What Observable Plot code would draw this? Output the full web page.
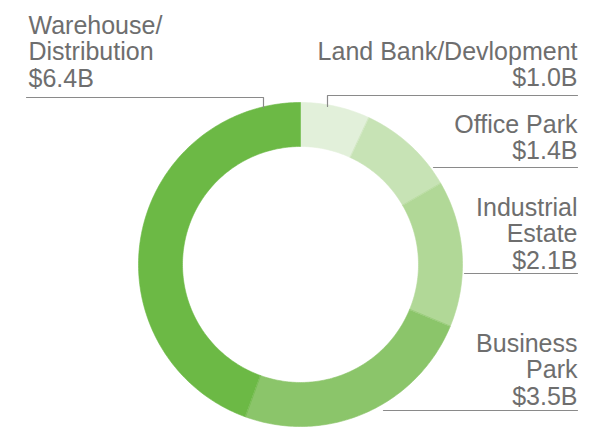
<!DOCTYPE html>
<html>
<head>
<meta charset="utf-8">
<script src="https://cdn.jsdelivr.net/npm/d3@7"></script>
<script src="https://cdn.jsdelivr.net/npm/@observablehq/plot@0.6"></script>
<style>
  html, body { margin: 0; padding: 0; background: #fff; }
  #chart svg { display: block; }
</style>
</head>
<body>
<div id="chart"></div>
<script>
// Data (clockwise from 12 o'clock)
const categories = ["Land Bank/Devlopment", "Office Park", "Industrial Estate", "Business Park", "Warehouse/Distribution"];
const values = [1.0, 1.4, 2.1, 3.5, 6.4];
const valueLabels = ["$1.0B", "$1.4B", "$2.1B", "$3.5B", "$6.4B"];
const labelLines = [["Land Bank/Devlopment"], ["Office Park"], ["Industrial", "Estate"], ["Business", "Park"], ["Warehouse/", "Distribution"]];
const colors = ["#e2f0da", "#c7e3b5", "#b1d897", "#8bc56a", "#6cb945"];

const W = 589, H = 430;
const cx = 300, cy = 264, rOuter = 162, rInner = 118;

const pie = d3.pie().sort(null).value(d => d)(values);

// Build slice polygons from the data
const slicePts = [];
pie.forEach((p, i) => {
  const n = Math.max(8, Math.ceil((p.endAngle - p.startAngle) * 60));
  const pts = [];
  for (let k = 0; k <= n; k++) {
    const a = p.startAngle + (p.endAngle - p.startAngle) * k / n;
    pts.push([cx + rOuter * Math.sin(a), cy - rOuter * Math.cos(a)]);
  }
  for (let k = n; k >= 0; k--) {
    const a = p.startAngle + (p.endAngle - p.startAngle) * k / n;
    pts.push([cx + rInner * Math.sin(a), cy - rInner * Math.cos(a)]);
  }
  pts.forEach(([x, y]) => slicePts.push({cat: categories[i], x, y}));
});

// Leader lines (layout)
const leaders = [
  {cat: categories[0], pts: [[327, 106], [327, 95], [577, 95]]},
  {cat: categories[1], pts: [[433, 167], [577, 167]]},
  {cat: categories[2], pts: [[464, 273], [577, 273]]},
  {cat: categories[3], pts: [[383, 410], [577, 410]]},
  {cat: categories[4], pts: [[263, 107], [263, 97], [26, 97]]}
];
const leaderPts = leaders.flatMap(l => l.pts.map(([x, y]) => ({cat: l.cat, x, y})));

// Label text (cap-top of first line)
const labelPos = [
  {x: 577, y: 41, anchor: "end"},
  {x: 577, y: 114, anchor: "end"},
  {x: 577, y: 197, anchor: "end"},
  {x: 577, y: 333, anchor: "end"},
  {x: 28, y: 15, anchor: "start"}
];
const labels = categories.map((c, i) => ({
  cat: c,
  text: [...labelLines[i], valueLabels[i]].join("\n"),
  x: labelPos[i].x, y: labelPos[i].y, anchor: labelPos[i].anchor
}));

const textOpts = {x: "x", y: "y", text: "text", lineAnchor: "top", fontSize: 25, lineHeight: 1.05, fill: "#6e6e6e"};

const chart = Plot.plot({
  width: W, height: H,
  margin: 0,
  x: {domain: [0, W], axis: null},
  y: {domain: [0, H], reverse: true, axis: null},
  color: {domain: categories, range: colors},
  style: {fontFamily: "'Liberation Sans', Arial, sans-serif", background: "#fff"},
  marks: [
    Plot.line(slicePts, {x: "x", y: "y", z: "cat", fill: "cat", stroke: "cat", strokeWidth: 0.6, curve: "linear-closed"}),
    Plot.line(leaderPts, {x: "x", y: "y", z: "cat", stroke: "#8a8a8a", strokeWidth: 1.2}),
    Plot.text(labels.filter(d => d.anchor === "end"), {...textOpts, textAnchor: "end"}),
    Plot.text(labels.filter(d => d.anchor === "start"), {...textOpts, textAnchor: "start"})
  ]
});
document.getElementById("chart").appendChild(chart);
</script>
</body>
</html>
